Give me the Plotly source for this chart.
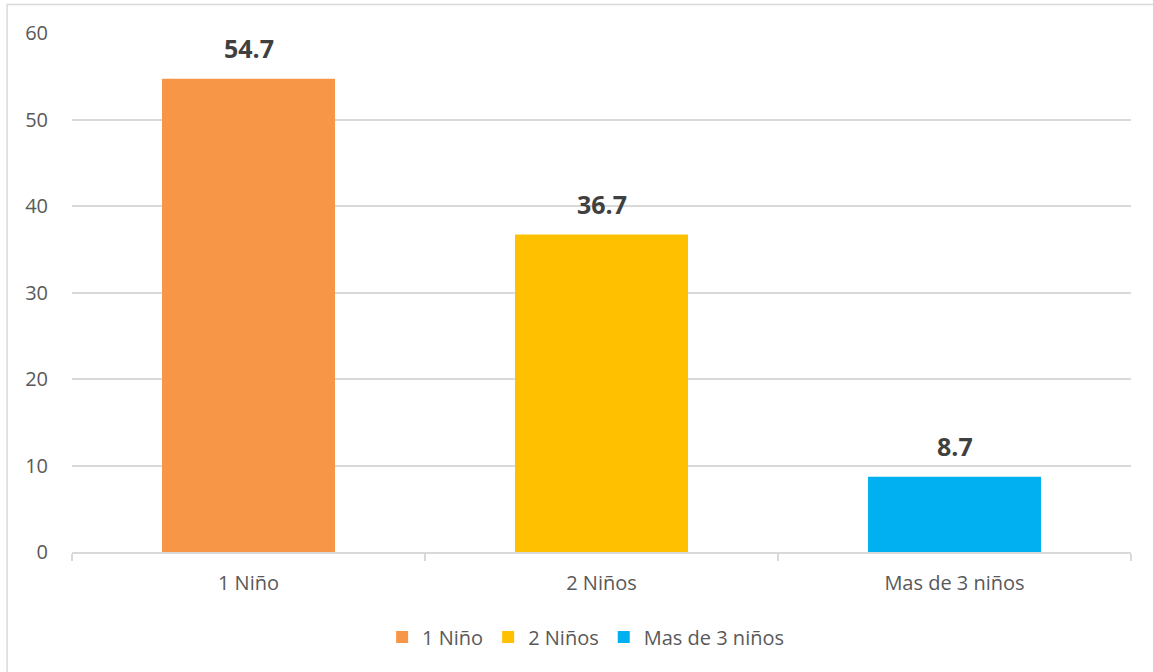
import plotly.graph_objects as go

categories = ["1 Niño", "2 Niños", "Mas de 3 niños"]
values = [54.7, 36.7, 8.7]
colors = ["#F79646", "#FFC000", "#00B0F0"]

fig = go.Figure()
for cat, val, col in zip(categories, values, colors):
    fig.add_trace(go.Bar(
        x=[cat], y=[val], name=cat,
        marker=dict(color=col, line=dict(width=0)),
        width=0.49,
    ))
    fig.add_annotation(
        x=cat, y=val, text="<b>%.1f</b>" % val,
        showarrow=False, yanchor="bottom", yshift=12,
        font=dict(family="Open Sans", size=25, color="#404040"),
    )

# outer chart border (cut off at right/bottom in the reference)
fig.add_shape(type="rect", xref="paper", yref="paper",
              x0=-0.0613, x1=1.05, y0=-0.3, y1=1.0549,
              line=dict(color="#D9D9D9", width=1.5), layer="below")

fig.update_layout(
    width=1153, height=672,
    margin=dict(l=72, r=22, t=33, b=120),
    paper_bgcolor="white", plot_bgcolor="white",
    barmode="overlay",
    font=dict(family="Open Sans", color="#595959", size=20),
    showlegend=True,
    legend=dict(orientation="h", x=0.485, xanchor="center", y=-0.164, yanchor="middle",
                font=dict(size=20, color="#595959"), itemwidth=30,
                traceorder="normal"),
    xaxis=dict(
        categoryorder="array", categoryarray=categories,
        showgrid=False, showline=True, linecolor="#D9D9D9", linewidth=1.5,
        ticks="outside", tickson="boundaries", ticklen=7, tickcolor="#D9D9D9",
        tickwidth=1.5, ticklabelstandoff=12, tickfont=dict(size=20, color="#595959"),
    ),
    yaxis=dict(
        range=[0, 60], dtick=10, showgrid=True, gridcolor="#D9D9D9", gridwidth=1.5,
        zeroline=False, showline=False, ticks="", ticklabelstandoff=23,
        tickfont=dict(size=20, color="#595959"),
    ),
)

fig.write_html("out.html", config={"displayModeBar": False},
               post_script="document.body.style.margin='0';")
